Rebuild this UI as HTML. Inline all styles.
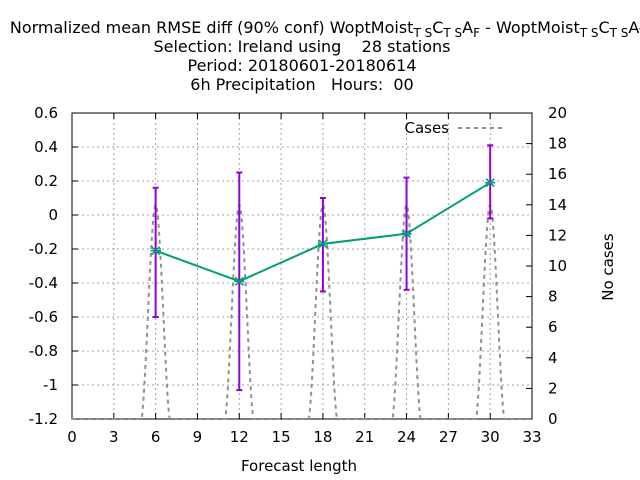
<!DOCTYPE html>
<html><head><meta charset="utf-8"><style>
body{margin:0;background:#fff;}
svg{display:block;font-family:"DejaVu Sans","Liberation Sans",sans-serif;}
</style></head><body>
<svg id="chart" width="640" height="480" xmlns="http://www.w3.org/2000/svg">
<g font-size="16" text-anchor="middle" fill="#000">
<text x="334" y="33" xml:space="preserve">Normalized mean RMSE diff (90% conf) WoptMoist<tspan font-size="12" dy="4">T S</tspan><tspan dy="-4">C</tspan><tspan font-size="12" dy="4">T S</tspan><tspan dy="-4">A</tspan><tspan font-size="12" dy="4">F</tspan><tspan dy="-4"> - WoptMoist</tspan><tspan font-size="12" dy="4">T S</tspan><tspan dy="-4">C</tspan><tspan font-size="12" dy="4">T S</tspan><tspan dy="-4">A</tspan><tspan font-size="12" dy="4">T S</tspan></text>
<text x="302" y="52" xml:space="preserve">Selection: Ireland using    28 stations</text>
<text x="302" y="71">Period: 20180601-20180614</text>
<text x="302" y="90" xml:space="preserve">6h Precipitation   Hours:  00</text>
</g>
<g id="plot"></g>
</svg>
<script>
const hours=[6,12,18,24,30];
const meanDiff=[-0.21,-0.39,-0.17,-0.11,0.19];
const ciUpper=[0.16,0.25,0.10,0.22,0.41];
const ciLower=[-0.60,-1.03,-0.45,-0.44,-0.02];
const caseHours=[0,1,2,3,4,5,6,7,8,9,10,11,12,13,14,15,16,17,18,19,20,21,22,23,24,25,26,27,28,29,30,31,32,33];
const caseCounts=[0,0,0,0,0,0,14,0,0,0,0,0,14,0,0,0,0,0,14,0,0,0,0,0,14,0,0,0,0,0,14,0,0,0];
const xTicks=[0,3,6,9,12,15,18,21,24,27,30,33];
const yTicks=[-1.2,-1,-0.8,-0.6,-0.4,-0.2,0,0.2,0.4,0.6];
const y2Ticks=[0,2,4,6,8,10,12,14,16,18,20];

const L=72,R=532,T=113,B=419;
const xs=v=>L+(v-0)/33*(R-L);
const ys=v=>B-(v+1.2)/1.8*(B-T);
const y2s=v=>B-v/20*(B-T);
const NS='http://www.w3.org/2000/svg';
const g=document.getElementById('plot');
function mk(tag,attrs,parent){const e=document.createElementNS(NS,tag);for(const k in attrs)e.setAttribute(k,attrs[k]);(parent||g).appendChild(e);return e;}

const grid=mk('g',{stroke:'#a0a0a0','stroke-width':1,'stroke-dasharray':'2,3'});


xTicks.forEach(t=>{if(t>0&&t<33){mk('line',{x1:xs(t),x2:xs(t),y1:T,y2:B},grid);}});
yTicks.forEach(t=>{if(t>-1.2&&t<0.6){mk('line',{x1:L,x2:R,y1:ys(t),y2:ys(t)},grid);}});

const frame=mk('rect',{x:L,y:T,width:R-L,height:B-T,fill:'none',stroke:'#000','stroke-width':1});



const ax=mk('g',{'font-size':15,fill:'#000'});


xTicks.forEach(t=>{
  mk('line',{x1:xs(t),x2:xs(t),y1:B,y2:B-6,stroke:'#000'},ax);
  mk('line',{x1:xs(t),x2:xs(t),y1:T,y2:T+6,stroke:'#000'},ax);
  const tx=mk('text',{x:xs(t),y:B+23,'text-anchor':'middle'},ax);tx.textContent=t;
  
  
});
yTicks.forEach(t=>{
  mk('line',{x1:L,x2:L+6,y1:ys(t),y2:ys(t),stroke:'#000'},ax);
  const tx=mk('text',{x:L-14,y:ys(t)+5,'text-anchor':'end'},ax);tx.textContent=(Math.round(t*10)/10).toString();
  
  
});
y2Ticks.forEach(t=>{
  mk('line',{x1:R,x2:R-6,y1:y2s(t),y2:y2s(t),stroke:'#000'},ax);
  const tx=mk('text',{x:R+16,y:y2s(t)+5,'text-anchor':'start'},ax);tx.textContent=t;
  
  
});
const xt=mk('text',{x:299,y:471,'text-anchor':'middle'},ax);xt.textContent='Forecast length';


const yt=mk('text',{x:613,y:267,'text-anchor':'middle',transform:'rotate(-90 613 267)'},ax);yt.textContent='No cases';



const pts=caseHours.map((h,i)=>[xs(h),y2s(caseCounts[i])]);
let d='M'+pts[0][0]+','+pts[0][1];
for(let i=0;i<pts.length-1;i++){
  const p0=pts[Math.max(0,i-1)],p1=pts[i],p2=pts[i+1],p3=pts[Math.min(pts.length-1,i+2)];
  const c1=[p1[0]+(p2[0]-p0[0])/6,Math.min(B,p1[1]+(p2[1]-p0[1])/6)];
  const c2=[p2[0]-(p3[0]-p1[0])/6,Math.min(B,p2[1]-(p3[1]-p1[1])/6)];
  d+=' C'+c1[0]+','+c1[1]+' '+c2[0]+','+c2[1]+' '+p2[0]+','+p2[1];
}
const cl=mk('path',{d:d,fill:'none',stroke:'#909090','stroke-width':2,'stroke-dasharray':'4,4'});



const eb=mk('g',{stroke:'#9400d3','stroke-width':2});


hours.forEach((h,i)=>{
  const x=xs(h);
  mk('line',{x1:x,x2:x,y1:ys(ciUpper[i]),y2:ys(ciLower[i])},eb);
  mk('line',{x1:x-3,x2:x+3,y1:ys(ciUpper[i]),y2:ys(ciUpper[i])},eb);
  mk('line',{x1:x-3,x2:x+3,y1:ys(ciLower[i]),y2:ys(ciLower[i])},eb);
});

const ml=mk('polyline',{points:hours.map((h,i)=>xs(h)+','+ys(meanDiff[i])).join(' '),fill:'none',stroke:'#009e73','stroke-width':2});


hours.forEach((h,i)=>{
  const x=xs(h),y=ys(meanDiff[i]);
  const m=mk('path',{d:`M${x-4},${y-4}L${x+4},${y+4}M${x-4},${y+4}L${x+4},${y-4}M${x-5},${y}L${x+5},${y}`,stroke:'#009e73','stroke-width':1.5});
  
  
});

const lg=mk('g',{});


const lt=mk('text',{x:449,y:133,'text-anchor':'end','font-size':15},lg);lt.textContent='Cases';
mk('line',{x1:458,x2:506,y1:128,y2:128,stroke:'#909090','stroke-width':2,'stroke-dasharray':'4,4'},lg);
</script>
</body></html>
